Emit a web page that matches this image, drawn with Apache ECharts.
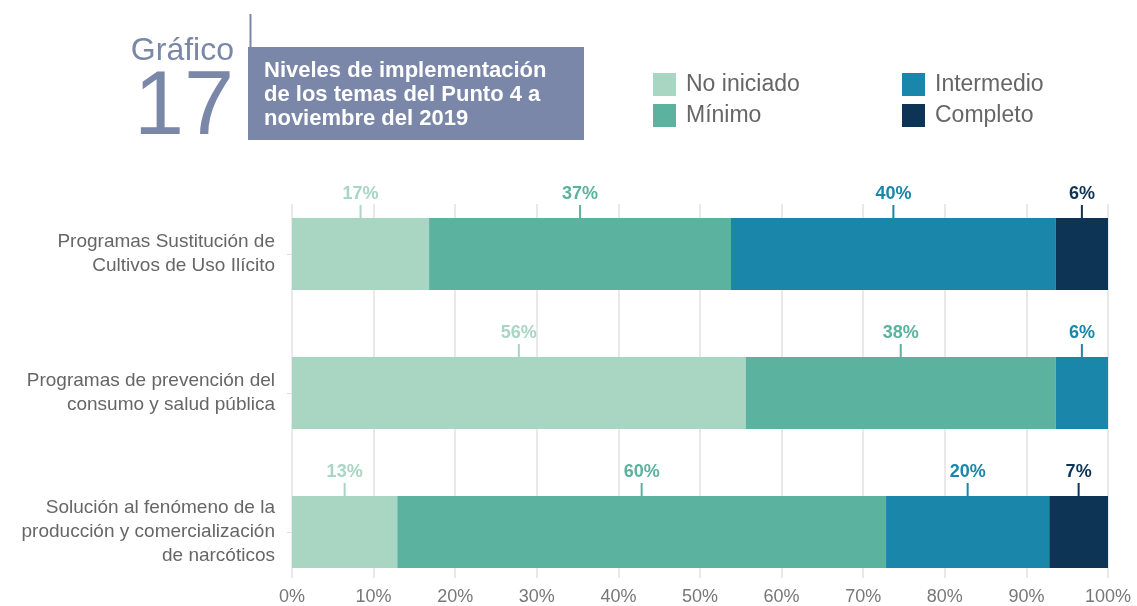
<!DOCTYPE html>
<html>
<head>
<meta charset="utf-8">
<script src="https://cdn.jsdelivr.net/npm/echarts@6/dist/echarts.min.js"></script>
<style>
  html, body { margin: 0; padding: 0; background: #fff; }
  #chart { width: 1137px; height: 606px; }
</style>
</head>
<body>
<div id="chart"></div>
<script>
const categories = [
  'Programas Sustitución de\nCultivos de Uso Ilícito',
  'Programas de prevención del\nconsumo y salud pública',
  'Solución al fenómeno de la\nproducción y comercialización\nde narcóticos'
]
const seriesNames = ['No iniciado', 'Mínimo', 'Intermedio', 'Completo']
const noIniciado = [16.8, 55.6, 12.9]
const minimo = [37.0, 38.0, 59.9]
const intermedio = [39.8, 6.4, 20.0]
const completo = [6.4, null, 7.2]
const xTicks = [0, 10, 20, 30, 40, 50, 60, 70, 80, 90, 100]

const colors = ['#a9d5c3', '#5bb29e', '#1986aa', '#0d3454']
const values = [noIniciado, minimo, intermedio, completo]
const font = "'Liberation Sans', Arial, Helvetica, sans-serif"
const titleColor = '#7a87a8'

const myChart = echarts.init(document.getElementById('chart'))

function makeSeries(i) {
  const c = colors[i]
  return {
    name: seriesNames[i],
    type: 'bar',
    stack: 'total',
    xAxisIndex: 0,
    yAxisIndex: 0,
    barWidth: 72,
    data: values[i],
    itemStyle: { color: c },
    emphasis: { disabled: true },
    label: {
      show: true,
      position: 'top',
      distance: 0,
      formatter: p => '{v|' + Math.round(p.value) + '%}\n{t| }',
      rich: {
        v: { fontSize: 18, fontWeight: 'bold', color: c, lineHeight: 22, align: 'center', fontFamily: font },
        t: { width: 2, height: 13, lineHeight: 13, backgroundColor: c, align: 'center', fontSize: 1 }
      }
    }
  }
}

const legendBase = {
  orient: 'vertical',
  top: 68,
  itemWidth: 23,
  itemHeight: 23,
  itemGap: 8,
  icon: 'rect',
  textStyle: { fontSize: 23, color: '#666', fontFamily: font, padding: [0, 0, 0, 5] },
  selectedMode: false
}

myChart.setOption({
  animation: false,
  textStyle: { fontFamily: font },
  legend: [
    Object.assign({}, legendBase, { left: 648, data: ['No iniciado', 'Mínimo'] }),
    Object.assign({}, legendBase, { left: 897, data: ['Intermedio', 'Completo'] })
  ],
  grid: [{
    // bars
    left: 292,
    width: 816,
    top: 184.5,
    height: 417
  }, {
    // gridlines + percent axis
    left: 292,
    width: 816,
    top: 204,
    height: 375
  }],
  xAxis: [{
    type: 'value',
    gridIndex: 0,
    min: 0,
    max: 100,
    show: false
  }, {
    type: 'value',
    gridIndex: 1,
    min: xTicks[0],
    max: xTicks[xTicks.length - 1],
    interval: 10,
    axisLine: { show: false },
    axisTick: { show: false },
    splitLine: { show: true, lineStyle: { color: '#e2e2e2', width: 1.5 } },
    axisLabel: { formatter: '{value}%', fontSize: 18, color: '#777', margin: 10, fontFamily: font }
  }],
  yAxis: [{
    type: 'category',
    gridIndex: 0,
    inverse: true,
    data: categories,
    axisLine: { show: false },
    axisTick: { show: true, alignWithLabel: true, length: 5, lineStyle: { color: '#e0e0e0', width: 1 } },
    axisLabel: { fontSize: 19, lineHeight: 24, color: '#666', margin: 17, align: 'right', fontFamily: font }
  }, {
    type: 'value',
    gridIndex: 1,
    show: false
  }],
  graphic: [
    { type: 'line', shape: { x1: 250.5, y1: 14, x2: 250.5, y2: 48 }, style: { stroke: titleColor, lineWidth: 2 } },
    { type: 'rect', shape: { x: 248, y: 47, width: 336, height: 93 }, style: { fill: titleColor } },
    {
      type: 'text', x: 264, y: 95,
      style: {
        text: 'Niveles de implementación\nde los temas del Punto 4 a\nnoviembre del 2019',
        fill: '#fff', font: 'bold 22px ' + font, lineHeight: 24,
        align: 'left', verticalAlign: 'middle'
      }
    },
    {
      type: 'text', x: 234, y: 51,
      style: { text: 'Gráfico', fill: titleColor, font: '32px ' + font, align: 'right', verticalAlign: 'middle' }
    },
    {
      type: 'text', x: 234, y: 109,
      style: { text: '17', fill: titleColor, font: '90px ' + font, align: 'right', verticalAlign: 'middle' }
    }
  ],
  series: [0, 1, 2, 3].map(makeSeries)
})

window.addEventListener('resize', () => { myChart.resize() })
</script>
</body>
</html>
